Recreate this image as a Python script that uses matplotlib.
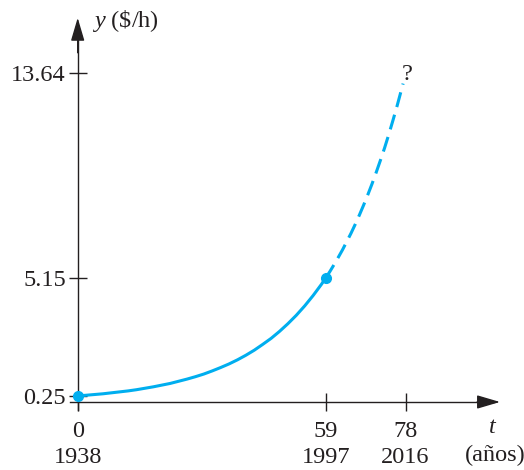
import matplotlib.pyplot as plt

plt.rcParams['font.family'] = 'Liberation Serif'
plt.rcParams['mathtext.fontset'] = 'custom'
plt.rcParams['mathtext.rm'] = 'Liberation Serif'
plt.rcParams['mathtext.it'] = 'Liberation Serif:italic'

# valores
t_solid = [0, 2, 4, 6, 8, 10, 12, 14, 16, 18, 20, 22, 24, 26, 28, 30,
           32, 34, 36, 38, 40, 42, 44, 46, 48, 50, 52, 54, 56, 58, 59]
y_solid = [0.25, 0.28, 0.31, 0.34, 0.38, 0.42, 0.46, 0.51, 0.57, 0.63, 0.70,
           0.77, 0.86, 0.95, 1.05, 1.16, 1.29, 1.43, 1.58, 1.75, 1.94, 2.15,
           2.39, 2.64, 2.93, 3.25, 3.60, 3.99, 4.42, 4.89, 5.15]
t_dash = [59, 60, 61, 62, 63, 64, 65, 66, 67, 68, 69, 70, 71, 72, 73, 74, 75, 76, 77.4]
y_dash = [5.15, 5.42, 5.71, 6.01, 6.32, 6.66, 7.00, 7.37, 7.76, 8.17, 8.60,
          9.05, 9.53, 10.03, 10.55, 11.11, 11.70, 12.31, 13.22]
t_points = [0, 59]
y_points = [0.25, 5.15]

x_ticks = [0, 59, 78]
x_years = [1938, 1997, 2016]
y_ticks = [0.25, 5.15, 13.64]

blue = '#00aeef'
ink = '#231f20'
fs = 17.5

fig = plt.figure(figsize=(5.24, 4.70), dpi=100)
ax = fig.add_axes([0, 0, 1, 1])
ax.set_xlim(-18.48, 106.16)
ax.set_ylim(-2.824, 16.69)

# ejes en el origen
for side in ['top', 'right']:
    ax.spines[side].set_visible(False)
ax.spines['left'].set_position(('data', 0))
ax.spines['bottom'].set_position(('data', 0))
ax.spines['left'].set_bounds(-0.35, 15.5)
ax.spines['bottom'].set_bounds(-1.8, 99)
for side in ['left', 'bottom']:
    ax.spines[side].set_color(ink)
    ax.spines[side].set_linewidth(1.0)

arrow = dict(arrowstyle='-|>,head_length=0.95,head_width=0.28',
             color=ink, lw=1.0, mutation_scale=15, shrinkA=0, shrinkB=0)
ax.annotate('', xy=(0, 15.95), xytext=(0, 14.5), arrowprops=arrow)
ax.annotate('', xy=(100.45, 0), xytext=(95, 0), arrowprops=arrow)

ax.set_xticks(x_ticks)
ax.set_xticklabels([f'{t}\n{yr}' for t, yr in zip(x_ticks, x_years)],
                   linespacing=1.32, fontsize=fs, color=ink)
ax.set_yticks(y_ticks)
ax.set_yticklabels([f'{v:.2f}' for v in y_ticks], fontsize=fs, color=ink)
ax.tick_params(direction='inout', length=13, width=1.0, color=ink)
ax.tick_params(axis='x', pad=7)
ax.tick_params(axis='y', pad=2)

# curva
ax.plot(t_solid, y_solid, color=blue, lw=2.2, solid_capstyle='round',
        solid_joinstyle='round', zorder=3)
ax.plot(t_dash, y_dash, color=blue, lw=2.2, dashes=(5, 2.6), zorder=3)
ax.plot(t_points, y_points, 'o', color=blue, ms=7, zorder=4)

ax.text(78.3, 13.58, '?', ha='center', va='center', fontsize=fs, color=ink)
ax.text(3.4, 15.82, r'$y$ (\$/h)', ha='left', va='center', fontsize=fs, color=ink)
ax.text(98.8, -1.04, r'$t$', ha='center', va='center', fontsize=fs, color=ink)
ax.text(99.3, -2.2, '(años)', ha='center', va='center', fontsize=fs, color=ink)

plt.savefig('out.png', dpi=100)
